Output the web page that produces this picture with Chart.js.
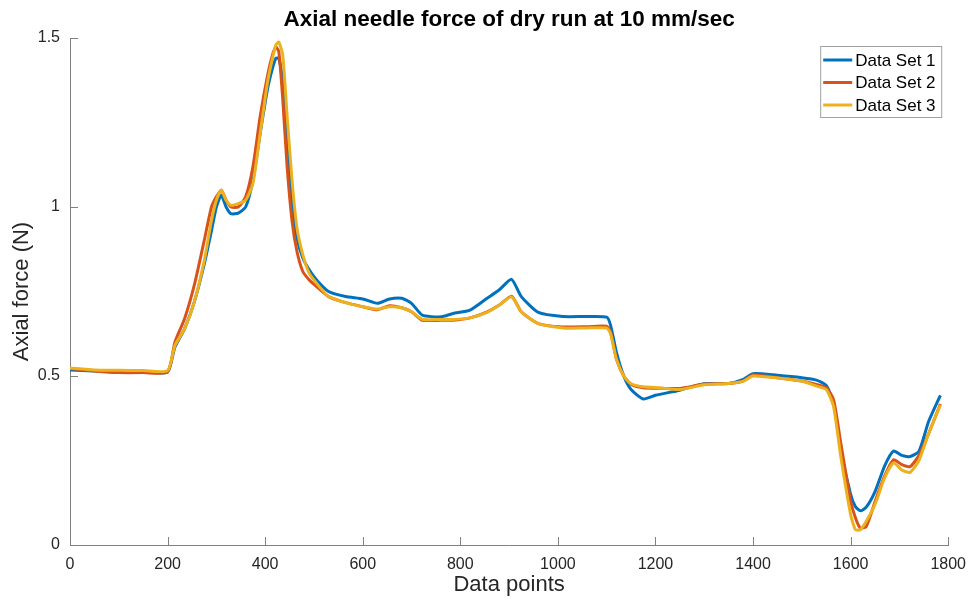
<!DOCTYPE html>
<html>
<head>
<meta charset="utf-8">
<script src="https://cdn.jsdelivr.net/npm/chart.js@4/dist/chart.umd.min.js"></script>
<style>
  html, body { margin: 0; padding: 0; background: #fff; }
  #wrap { width: 976px; height: 604px; }
</style>
</head>
<body>
<div id="wrap"><canvas id="forceChart" width="976" height="604"></canvas></div>
<script>
// sample positions (data point index)
var dataPoints = [0, 50, 100, 150, 200, 215, 235, 255, 275, 290, 300, 310, 320, 330, 345, 360, 375, 390, 405, 415, 422, 428, 436, 445, 455, 465, 477, 490, 505, 530, 565, 600, 630, 655, 680, 700, 722, 760, 785, 820, 855, 880, 905, 925, 960, 1010, 1060, 1100, 1108, 1120, 1135, 1150, 1175, 1200, 1250, 1300, 1350, 1380, 1400, 1450, 1500, 1530, 1550, 1565, 1580, 1600, 1610, 1620, 1632, 1650, 1670, 1688, 1705, 1722, 1740, 1760, 1784];

var dataSet1 = [0.518, 0.515, 0.512, 0.512, 0.512, 0.585, 0.64, 0.72, 0.83, 0.93, 1.0, 1.035, 1.0, 0.98, 0.982, 1.0, 1.08, 1.22, 1.35, 1.41, 1.44, 1.44, 1.37, 1.2, 1.02, 0.91, 0.85, 0.815, 0.785, 0.75, 0.735, 0.728, 0.715, 0.728, 0.73, 0.715, 0.68, 0.675, 0.685, 0.695, 0.73, 0.755, 0.786, 0.735, 0.688, 0.676, 0.676, 0.674, 0.65, 0.57, 0.5, 0.46, 0.432, 0.443, 0.458, 0.477, 0.478, 0.49, 0.507, 0.502, 0.495, 0.488, 0.472, 0.42, 0.28, 0.15, 0.113, 0.101, 0.112, 0.158, 0.235, 0.278, 0.265, 0.262, 0.277, 0.366, 0.443];

var dataSet2 = [0.522, 0.515, 0.51, 0.51, 0.512, 0.6, 0.67, 0.77, 0.9, 1.0, 1.03, 1.05, 1.02, 1.0, 1.0, 1.03, 1.12, 1.27, 1.39, 1.45, 1.473, 1.46, 1.32, 1.12, 0.96, 0.87, 0.81, 0.785, 0.765, 0.735, 0.717, 0.705, 0.696, 0.708, 0.702, 0.69, 0.665, 0.665, 0.665, 0.672, 0.69, 0.71, 0.736, 0.69, 0.655, 0.645, 0.646, 0.647, 0.63, 0.55, 0.5, 0.475, 0.465, 0.464, 0.463, 0.476, 0.478, 0.485, 0.503, 0.495, 0.485, 0.475, 0.465, 0.43, 0.3, 0.13, 0.08, 0.05, 0.055, 0.128, 0.205, 0.252, 0.238, 0.232, 0.265, 0.33, 0.417];

var dataSet3 = [0.524, 0.518, 0.517, 0.516, 0.516, 0.59, 0.64, 0.72, 0.84, 0.96, 1.02, 1.05, 1.02, 1.005, 1.01, 1.02, 1.07, 1.22, 1.37, 1.44, 1.48, 1.488, 1.45, 1.27, 1.08, 0.94, 0.86, 0.805, 0.775, 0.735, 0.717, 0.705, 0.698, 0.705, 0.702, 0.69, 0.668, 0.667, 0.667, 0.672, 0.688, 0.71, 0.734, 0.69, 0.655, 0.642, 0.642, 0.642, 0.625, 0.55, 0.5, 0.477, 0.468, 0.466, 0.46, 0.474, 0.478, 0.485, 0.5, 0.494, 0.485, 0.47, 0.46, 0.41, 0.26, 0.09, 0.045, 0.045, 0.07, 0.12, 0.2, 0.243, 0.222, 0.215, 0.25, 0.33, 0.414];

var seriesNames = ["Data Set 1", "Data Set 2", "Data Set 3"];
var xTickLabels = ["0", "200", "400", "600", "800", "1000", "1200", "1400", "1600", "1800"];
var yTickLabels = ["0", "0.5", "1", "1.5"];

var fontFamily = "'Liberation Sans', Arial, Helvetica, sans-serif";
var axisColor = '#808080';
var textColor = '#262626';
var colors = ['#0072BD', '#D95319', '#EDB120'];

function toPoints(ys) {
    return dataPoints.map(function (x, i) { return { x: x, y: ys[i] }; });
}

// matlab style ticks pointing into the plot
var innerTicks = {
    id: 'innerTicks',
    afterDatasetsDraw: function (chart) {
        var ctx = chart.ctx, a = chart.chartArea;
        var xs = chart.scales.x, ys = chart.scales.y;
        ctx.save();
        ctx.strokeStyle = axisColor;
        ctx.lineWidth = 1;
        xs.ticks.forEach(function (t) {
            var px = Math.round(xs.getPixelForValue(t.value)) + 0.5;
            ctx.beginPath(); ctx.moveTo(px, a.bottom); ctx.lineTo(px, a.bottom - 8); ctx.stroke();
        });
        ys.ticks.forEach(function (t) {
            var py = Math.round(ys.getPixelForValue(t.value)) + 0.5;
            ctx.beginPath(); ctx.moveTo(a.left, py); ctx.lineTo(a.left + 8, py); ctx.stroke();
        });
        ctx.restore();
    }
};

// legend box inside the top right corner
var boxLegend = {
    id: 'boxLegend',
    afterDraw: function (chart) {
        var ctx = chart.ctx, a = chart.chartArea;
        var w = 121, h = 71;
        var left = a.right - 7 - w, top = a.top + 8;
        ctx.save();
        ctx.fillStyle = '#fff';
        ctx.fillRect(left, top, w, h);
        ctx.strokeStyle = '#a0a0a0';
        ctx.lineWidth = 1;
        ctx.strokeRect(left + 0.5, top + 0.5, w, h);
        ctx.font = '17px ' + fontFamily;
        ctx.textBaseline = 'middle';
        chart.data.datasets.forEach(function (ds, i) {
            var cy = top + 14 + i * 22.5;
            ctx.strokeStyle = ds.borderColor;
            ctx.lineWidth = 3;
            ctx.beginPath(); ctx.moveTo(left + 3, cy); ctx.lineTo(left + 32, cy); ctx.stroke();
            ctx.fillStyle = '#000';
            ctx.fillText(ds.label, left + 35, cy + 1);
        });
        ctx.restore();
    }
};

var ctx = document.getElementById('forceChart').getContext('2d');
var forceChart = new Chart(ctx, {
    type: 'line',
    data: {
        datasets: [
            { label: seriesNames[0], data: toPoints(dataSet1), borderColor: colors[0], order: 3 },
            { label: seriesNames[1], data: toPoints(dataSet2), borderColor: colors[1], order: 2 },
            { label: seriesNames[2], data: toPoints(dataSet3), borderColor: colors[2], order: 1 }
        ]
    },
    options: {
        responsive: false,
        animation: false,
        datasets: {
            line: { borderWidth: 3, pointRadius: 0, tension: 0.2, fill: false }
        },
        layout: { padding: { left: 0, right: 26, top: 0, bottom: 0 } },
        plugins: {
            legend: { display: false },
            tooltip: { enabled: false },
            title: {
                display: true,
                fullSize: false,
                text: 'Axial needle force of dry run at 10 mm/sec',
                color: '#000',
                font: { family: fontFamily, size: 22.5, weight: 'bold' },
                padding: { top: 6.5, bottom: 4.5 }
            }
        },
        scales: {
            x: {
                type: 'linear',
                min: 0,
                max: 1800,
                grid: { drawOnChartArea: false, drawTicks: false },
                border: { display: true, color: axisColor, width: 1 },
                ticks: {
                    stepSize: 200,
                    padding: 10,
                    maxRotation: 0,
                    color: textColor,
                    font: { family: fontFamily, size: 16 },
                    callback: function (v) { return xTickLabels[Math.round(v / 200)]; }
                },
                title: {
                    display: true,
                    text: 'Data points',
                    color: textColor,
                    font: { family: fontFamily, size: 22 },
                    padding: { top: 0, bottom: 6 }
                },
                afterFit: function (s) { s.height = 59; }
            },
            y: {
                min: 0,
                max: 1.5,
                grid: { drawOnChartArea: false, drawTicks: false },
                border: { display: true, color: axisColor, width: 1 },
                ticks: {
                    stepSize: 0.5,
                    padding: 10,
                    color: textColor,
                    font: { family: fontFamily, size: 16 },
                    callback: function (v) { return yTickLabels[Math.round(v / 0.5)]; }
                },
                title: {
                    display: true,
                    text: 'Axial force (N)',
                    color: textColor,
                    font: { family: fontFamily, size: 22 },
                    padding: { top: 9, bottom: 0 }
                },
                afterFit: function (s) { s.width = 70; }
            }
        }
    },
    plugins: [innerTicks, boxLegend]
});
</script>
</body>
</html>
